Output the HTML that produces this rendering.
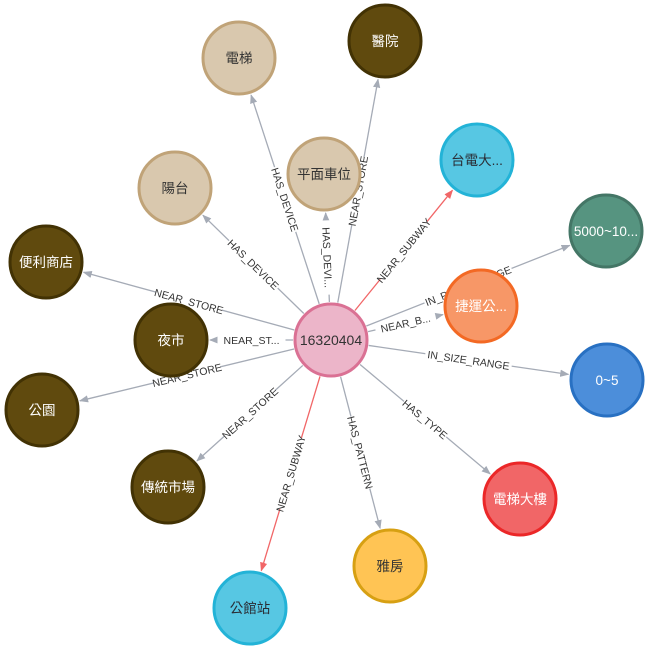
<!DOCTYPE html>
<html><head><meta charset="utf-8">
<style>
html,body{margin:0;padding:0;background:#fff;}
svg{display:block;font-family:"Liberation Sans","Noto Sans CJK TC",sans-serif;}
</style></head>
<body>
<svg id="g" width="652" height="652" viewBox="0 0 652 652">
<defs>
<marker id="ag" viewBox="0 0 10 10" refX="9" refY="5" markerWidth="7" markerHeight="7" orient="auto"><path d="M0,1 L10,5 L0,9 z" fill="#a5abb6"/></marker>
<marker id="ar" viewBox="0 0 10 10" refX="9" refY="5" markerWidth="7" markerHeight="7" orient="auto"><path d="M0,1 L10,5 L0,9 z" fill="#f16667"/></marker>
</defs>
<g id="edges"></g><g id="nodes"></g>
</svg>
<script>
const nodeLabels=["16320404","電梯","醫院","平面車位","陽台","台電大...","5000~10...","便利商店","夜市","捷運公...","0~5","公園","傳統市場","電梯大樓","雅房","公館站"];
const nodeX=[331,239,385,324,175,477,606,46,171,481,607,42,168,520,390,250];
const nodeY=[340,58,41,174,188,160,231,262,340,306,380,410,487,499,566,608];
const nodeType=["house","device","store","device","device","subway","price","store","store","bus","size","store","store","type","pattern","subway"];
const edgeLabels=["HAS_DEVICE","NEAR_STORE","HAS_DEVI...","HAS_DEVICE","NEAR_SUBWAY","IN_PRICE_RANGE","NEAR_STORE","NEAR_ST...","NEAR_B...","IN_SIZE_RANGE","NEAR_STORE","NEAR_STORE","HAS_TYPE","HAS_PATTERN","NEAR_SUBWAY"];
const edgeTargets=[1,2,3,4,5,6,7,8,9,10,11,12,13,14,15];
const styles={house:["#ecb5c9","#da7194","#333"],device:["#d9c8ae","#c0a378","#333"],store:["#604a0e","#423204","#fff"],subway:["#57c7e3","#23b3d7","#2a2c34"],price:["#569480","#447666","#fff"],bus:["#f79767","#f36924","#fff"],size:["#4c8eda","#2870c2","#fff"],type:["#f16667","#eb2728","#fff"],pattern:["#ffc454","#d7a013","#333"]};
const R=37,NS="http://www.w3.org/2000/svg";
const eg=document.getElementById('edges'),ng=document.getElementById('nodes');
function mk(t,a){const e=document.createElementNS(NS,t);for(const k in a)e.setAttribute(k,a[k]);return e;}
edgeTargets.forEach((t,i)=>{
  const x0=nodeX[0],y0=nodeY[0],x1=nodeX[t],y1=nodeY[t];
  const dx=x1-x0,dy=y1-y0,L=Math.hypot(dx,dy),ux=dx/L,uy=dy/L;
  const sx=x0+ux*(R+1),sy=y0+uy*(R+1),ex=x1-ux*(R+2),ey=y1-uy*(R+2);
  const red=edgeLabels[i]==="NEAR_SUBWAY";
  const g=mk('g',{});
  
  
  g.appendChild(mk('line',{x1:sx,y1:sy,x2:ex,y2:ey,stroke:red?"#f16667":"#a5abb6","stroke-width":1.3,"marker-end":red?"url(#ar)":"url(#ag)"}));
  let ang=Math.atan2(dy,dx)*180/Math.PI;if(ang>90)ang-=180;if(ang<-90)ang+=180;
  const mx=(sx+ex)/2,my=(sy+ey)/2;
  const tg=mk('g',{transform:`translate(${mx},${my}) rotate(${ang})`});
  const w=edgeLabels[i].length*6.4+4;
  tg.appendChild(mk('rect',{x:-w/2,y:-6,width:w,height:12,fill:"#fff"}));
  const tx=mk('text',{x:0,y:4,"text-anchor":"middle","font-size":10.5,fill:"#333"});
  tx.textContent=edgeLabels[i];
  
  
  tg.appendChild(tx);g.appendChild(tg);eg.appendChild(g);
});
nodeLabels.forEach((lab,i)=>{
  const s=styles[nodeType[i]];
  const g=mk('g',{});
  
  
  g.appendChild(mk('circle',{cx:nodeX[i],cy:nodeY[i],r:R-1,fill:s[0],stroke:s[1],"stroke-width":3}));
  const tx=mk('text',{x:nodeX[i],y:nodeY[i]+5,"text-anchor":"middle","font-size":i===0?14:13.5,fill:s[2]});
  tx.textContent=lab;
  
  
  g.appendChild(tx);ng.appendChild(g);
});
</script>
</body></html>
